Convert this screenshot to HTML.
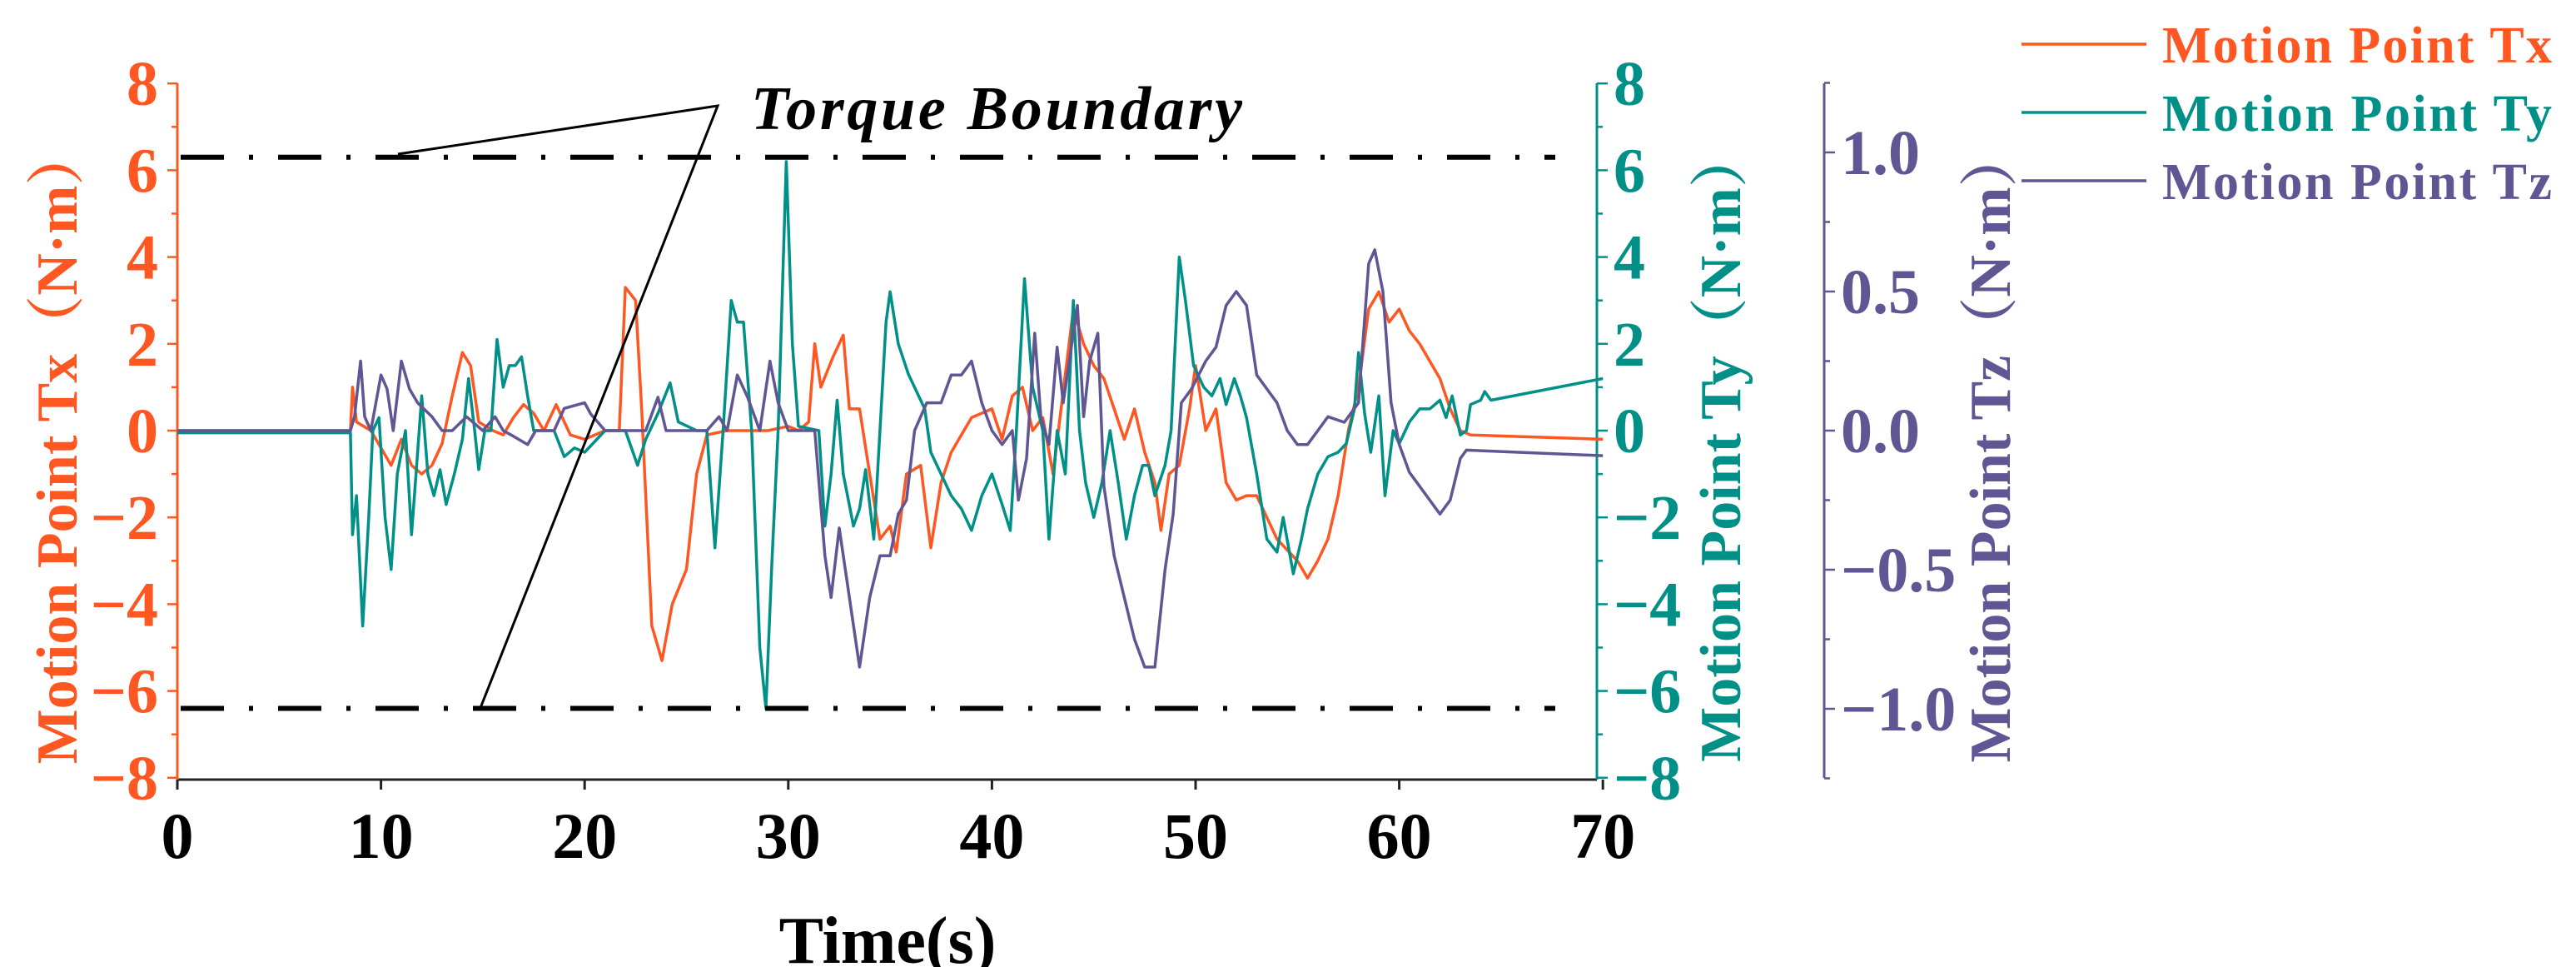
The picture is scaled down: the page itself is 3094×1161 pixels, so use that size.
<!DOCTYPE html>
<html><head><meta charset="utf-8"><style>
html,body{margin:0;padding:0;background:#fff;}
svg{display:block;}
text{font-family:"Liberation Serif","Noto Serif CJK SC",serif;font-weight:bold;}
</style></head><body>
<svg id="chart" width="3094" height="1161" viewBox="0 0 3094 1161" xmlns="http://www.w3.org/2000/svg">
<g id="axes"></g>
<g id="series"></g>
<g id="annot"></g>
</svg>
<script>
const times = [0,8.5,8.6,8.8,9.5,10,10.5,11,11.5,12,12.5,13,13.5,14,14.4,14.8,15.5,16,16.5,17,17.5,18,18.6,19.3,20,21,21.7,22,22.5,22.8,23.3,23.8,24.3,25,25.5,26,27,28,29,30,30.5,31,31.3,31.6,32.2,32.7,33,33.5,34,34.5,35,35.3,35.8,36.5,37,37.5,38,39,40,40.5,41,41.5,42,42.5,43,44,44.5,45,45.5,46,46.5,47,47.5,48,48.3,48.7,49.2,49.7,50,50.5,51,51.5,52,52.5,53,54,55,55.5,56,56.5,57,57.5,58,58.5,59,59.5,60,60.5,61,62,62.5,63,63.5,70];
const txValues = [0,0,1.0,0.2,0.0,-0.4,-0.8,-0.2,-0.8,-1.0,-0.8,-0.3,0.8,1.8,1.5,0.2,0.0,-0.1,0.3,0.6,0.4,0,0.6,-0.1,-0.2,0,0,3.3,3.0,0.5,-4.5,-5.3,-4.0,-3.2,-1.0,-0.1,0,0,0,0.1,0,0.2,2.0,1.0,1.7,2.2,0.5,0.5,-1.0,-2.5,-2.2,-2.8,-1.0,-0.8,-2.7,-1.2,-0.5,0.3,0.5,-0.2,0.8,1.0,0,0.3,-1.0,2.8,2.0,1.5,1.2,0.5,-0.2,0.5,-0.5,-1.2,-2.3,-1.0,-0.8,0.5,1.5,0,0.5,-1.2,-1.6,-1.5,-1.5,-2.5,-3.0,-3.4,-3.0,-2.5,-1.5,0,1.0,2.8,3.2,2.5,2.8,2.3,2.0,1.2,0.5,0,-0.1,-0.2];
const tyTimes = [0,8.5,8.6,8.8,9.1,9.4,9.6,9.9,10.2,10.5,10.8,11.2,11.5,11.8,12.0,12.3,12.6,12.9,13.2,13.6,14,14.3,14.6,14.8,15.1,15.4,15.7,16,16.3,16.6,16.9,17.2,17.5,18.5,19,19.5,20,21,22,22.6,23,23.6,24.2,24.6,25.5,26,26.4,26.8,27.2,27.5,27.8,28.2,28.6,28.9,29.2,29.5,29.9,30.2,30.5,31.5,31.8,32.1,32.4,32.7,33.2,33.5,33.8,34.2,34.5,34.8,35.0,35.4,35.9,36.4,36.7,37,37.5,38,38.5,39,39.5,40,40.5,40.9,41.2,41.6,42,42.5,42.8,43.2,43.6,44,44.3,44.6,45,45.4,45.8,46.2,46.6,47,47.4,47.7,48,48.5,48.8,49.2,49.5,49.9,50.4,50.8,51.2,51.5,51.9,52.2,52.5,53,53.5,54.0,54.3,54.8,55.2,55.5,56,56.5,57,57.4,57.8,58,58.3,58.6,59,59.3,59.7,60,60.5,61,61.5,62,62.3,62.6,63,63.3,63.5,64,64.2,64.5,70];
const tyValues = [-0.05,-0.05,-2.4,-1.5,-4.5,-2,0,0.3,-2,-3.2,-1,0,-2.4,-0.5,0.8,-1.0,-1.5,-0.9,-1.7,-1.0,-0.2,1.2,0.0,-0.9,0,0,2.1,1.0,1.5,1.5,1.7,0.8,0.0,0,-0.6,-0.4,-0.5,0,0,-0.8,-0.2,0.4,1.1,0.2,0,0,-2.7,0,3.0,2.5,2.5,0,-5,-6.4,-3,0,6.2,2,0.1,0,-2.2,-1,0.7,-1.0,-2.2,-1.8,-0.9,-2.5,0,2.5,3.2,2.0,1.3,0.8,0.5,-0.5,-1.0,-1.5,-1.8,-2.3,-1.5,-1.0,-1.7,-2.3,0,3.5,1.0,0,-2.5,0,-1,3.0,0.0,-1.2,-2.0,-1.2,0,-1.2,-2.5,-1.5,-0.8,-0.8,-1.5,-0.8,0,4.0,3.0,1.5,1.0,0.8,1.2,0.6,1.2,0.8,0.3,-1.0,-2.5,-2.8,-2.0,-3.3,-2.5,-1.8,-1.0,-0.6,-0.5,-0.3,0.5,1.8,0.4,-0.5,0.8,-1.5,0.0,-0.3,0.2,0.5,0.5,0.7,0.3,0.8,-0.1,0.0,0.6,0.7,0.9,0.7,1.2];
const tzTimes = [0,8.5,8.7,9.0,9.2,9.5,10.0,10.3,10.6,11,11.4,11.8,12.5,13,13.5,14.2,15,15.6,16,16.5,17.2,17.6,18.5,19,20,20.3,21,22,23,23.6,24,26,26.6,27,27.5,28,28.6,29.1,29.5,30,31.3,31.8,32.1,32.5,33,33.5,34,34.5,35,35.4,35.8,36.2,36.8,37.5,38,38.5,39,39.5,40,40.5,41.0,41.3,41.7,42.1,42.4,42.8,43.2,43.5,44.2,44.5,44.8,45.2,45.5,46,46.5,47,47.5,48,48.5,48.9,49.3,49.8,50.5,51,51.5,52,52.5,53,53.5,54,54.5,55,55.5,56,56.5,57.3,58,58.5,58.8,59.2,59.6,60,60.5,61,61.5,62,62.5,63,63.3,70];
const tzValues = [0,0,0.05,0.25,0.05,0,0.2,0.15,0,0.25,0.15,0.1,0.05,0.0,0.0,0.05,0.0,0.05,0.0,-0.02,-0.05,0.0,0.0,0.08,0.1,0.06,0.0,0.0,0.0,0.12,0.0,0.0,0.05,0.0,0.2,0.12,0.0,0.25,0.1,0.0,0.0,-0.45,-0.6,-0.35,-0.6,-0.85,-0.6,-0.45,-0.45,-0.3,-0.25,0.0,0.1,0.1,0.2,0.2,0.25,0.1,0.0,-0.05,0.0,-0.25,-0.1,0.35,0.05,-0.05,0.3,0.1,0.45,0.05,0.25,0.35,-0.2,-0.45,-0.6,-0.75,-0.85,-0.85,-0.5,-0.3,0.1,0.15,0.25,0.3,0.45,0.5,0.45,0.2,0.15,0.1,0.0,-0.05,-0.05,0.0,0.05,0.03,0.1,0.6,0.65,0.5,0.1,-0.05,-0.15,-0.2,-0.25,-0.3,-0.25,-0.1,-0.07,-0.09];
const xTicks = [0,10,20,30,40,50,60,70];
const txTicks = [8,6,4,2,0,-2,-4,-6,-8];
const tyTicks = [8,6,4,2,0,-2,-4,-6,-8];
const tzTicks = [1.0,0.5,0.0,-0.5,-1.0];
const boundaries = [6.3,-6.4];

const NS="http://www.w3.org/2000/svg";
const X0=213, XPX=24.46, Y0=517, YPX=52.1, ZPX=334;
const xs=t=>X0+t*XPX, ys=v=>Y0-v*YPX, zs=v=>Y0-v*ZPX;
const OR="#ff5722", TE="#009088", PU="#5f5693";
function mk(tag,attrs,parent,txt){const e=document.createElementNS(NS,tag);for(const k in attrs)e.setAttribute(k,attrs[k]);if(txt!==undefined)e.textContent=txt;parent.appendChild(e);return e;}
const axes=document.getElementById('axes'), ser=document.getElementById('series'), ann=document.getElementById('annot');
const fmt=v=>(v<0?'\u2212':'')+Math.abs(v);

let e=mk('line',{x1:X0,y1:936,x2:1918,y2:936,stroke:'#222','stroke-width':3},axes);


xTicks.forEach(t=>{
  let l=mk('line',{x1:xs(t),y1:936,x2:xs(t),y2:948,stroke:'#222','stroke-width':3},axes);
  
  
  let tx=mk('text',{x:xs(t),y:1030,'text-anchor':'middle','font-size':78,fill:'#000'},axes,String(t));
  
  
});
e=mk('text',{x:1066,y:1156,'text-anchor':'middle','font-size':80,fill:'#000'},axes,'Time(s)');



e=mk('line',{x1:X0,y1:100,x2:X0,y2:936,stroke:OR,'stroke-width':3},axes);


for(let v=-8;v<=8;v++){
  let l=mk('line',{x1:X0-(v%2===0?12:7),y1:ys(v),x2:X0,y2:ys(v),stroke:OR,'stroke-width':2.5},axes);
  
  
}
txTicks.forEach(v=>{
  let t=mk('text',{x:190,y:ys(v)+26,'text-anchor':'end','font-size':76,fill:OR},axes,fmt(v));
  
  
});
e=mk('text',{x:0,y:0,transform:'translate(92,535) rotate(-90)','text-anchor':'middle','font-size':70,fill:OR},axes,'Motion Point Tx（N·m）');



const TYX=1918;
e=mk('line',{x1:TYX,y1:100,x2:TYX,y2:936,stroke:TE,'stroke-width':3},axes);


for(let v=-8;v<=8;v++){
  let l=mk('line',{x1:TYX,y1:ys(v),x2:TYX+(v%2===0?13:7),y2:ys(v),stroke:TE,'stroke-width':2.5},axes);
  
  
}
tyTicks.forEach(v=>{
  let t=mk('text',{x:1938,y:ys(v)+26,'font-size':76,fill:TE},axes,fmt(v));
  
  
});
e=mk('text',{x:0,y:0,transform:'translate(2090,535) rotate(-90)','text-anchor':'middle','font-size':70,fill:TE},axes,'Motion Point Ty（N·m）');



const TZX=2191;
e=mk('line',{x1:TZX,y1:100,x2:TZX,y2:934,stroke:PU,'stroke-width':3},axes);


for(let k=-5;k<=5;k++){
  const v=k*0.25;
  let l=mk('line',{x1:TZX,y1:zs(v),x2:TZX+(k%2===0?13:7),y2:zs(v),stroke:PU,'stroke-width':2.5},axes);
  
  
}
tzTicks.forEach(v=>{
  let t=mk('text',{x:2211,y:zs(v)+26,'font-size':76,fill:PU},axes,(v<0?'\u2212':'')+Math.abs(v).toFixed(1));
  
  
});
e=mk('text',{x:0,y:0,transform:'translate(2414,535) rotate(-90)','text-anchor':'middle','font-size':70,fill:PU},axes,'Motion Point Tz（N·m）');



boundaries.forEach(b=>{
  let l=mk('line',{x1:217,y1:ys(b),x2:1868,y2:ys(b),stroke:'#000','stroke-width':6,'stroke-dasharray':'52 30 5 30'},ann);
  
  
});
e=mk('polyline',{points:'478,185 862,127 577,850',fill:'none',stroke:'#000','stroke-width':3},ann);


e=mk('text',{x:902,y:155,'font-size':74,'font-style':'italic',fill:'#000',textLength:590},ann,'Torque Boundary');



function path(ts,vs,sc){return ts.map((t,i)=>(i?'L':'M')+xs(t).toFixed(1)+','+sc(vs[i]).toFixed(1)).join('');}
e=mk('path',{d:path(times,txValues,ys),fill:'none',stroke:OR,'stroke-width':3.5,'stroke-linejoin':'round'},ser);


e=mk('path',{d:path(tyTimes,tyValues,ys),fill:'none',stroke:TE,'stroke-width':3.5,'stroke-linejoin':'round'},ser);


e=mk('path',{d:path(tzTimes,tzValues,zs),fill:'none',stroke:PU,'stroke-width':3.5,'stroke-linejoin':'round'},ser);



[['Motion Point Tx',OR,53],['Motion Point Ty',TE,135],['Motion Point Tz',PU,217]].forEach(([n,c,y])=>{
  let l=mk('line',{x1:2428,y1:y,x2:2578,y2:y,stroke:c,'stroke-width':3.5},ann);
  
  
  let t=mk('text',{x:2597,y:y+22,'font-size':62,fill:c,textLength:468},ann,n);
  
  
});
</script>
</body></html>
